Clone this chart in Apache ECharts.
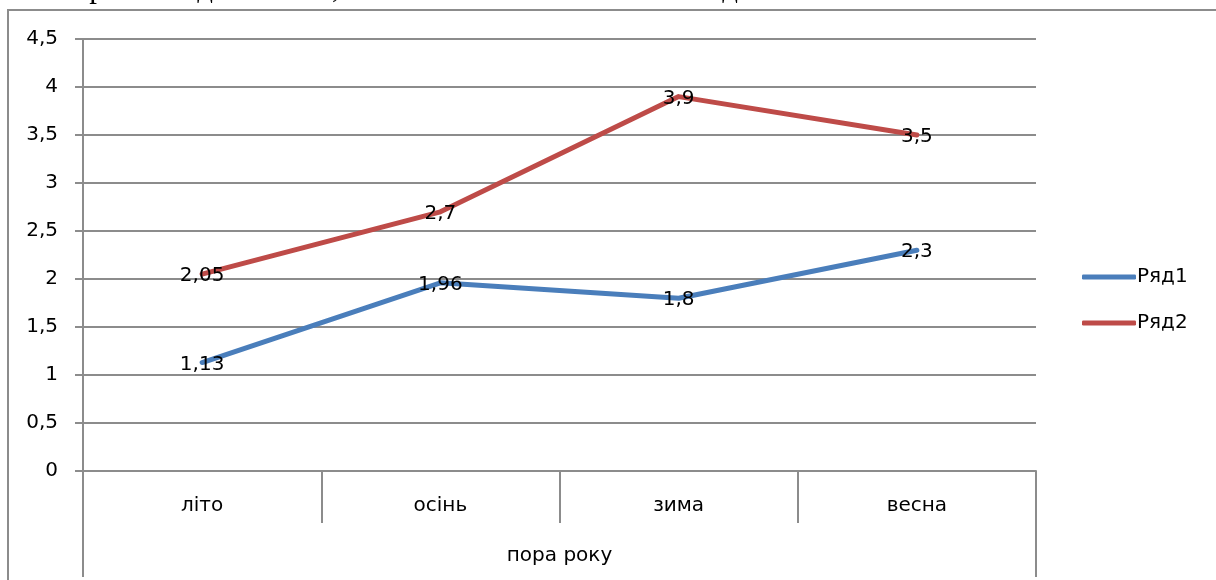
<!DOCTYPE html>
<html>
<head>
<meta charset="utf-8">
<script src="https://cdn.jsdelivr.net/npm/echarts@6/dist/echarts.min.js"></script>
<style>
  html, body { margin: 0; padding: 0; background: #fff; }
  #chart { width: 1216px; height: 580px; }
</style>
</head>
<body>
<div id="chart"></div>
<script>
// Seasons and the two measured series
const categories = ['літо', 'осінь', 'зима', 'весна'];
const groupLabel = ['пора року'];
const seriesNames = ['Ряд1', 'Ряд2'];
const row1 = [1.13, 1.96, 1.8, 2.3];
const row2 = [2.05, 2.7, 3.9, 3.5];
const yTicks = { min: 0, max: 4.5, step: 0.5 };

const comma = v => String(v).replace('.', ',');
const gray = '#8c8c8c';
const font = '"DejaVu Sans", "Noto Sans", sans-serif';
const fs = 20;

const chart = echarts.init(document.getElementById('chart'), null, { renderer: 'canvas' });

const lineSeries = (name, data, color) => ({
  name,
  type: 'line',
  data,
  symbol: 'circle',
  symbolSize: 0.1,
  showSymbol: true,
  lineStyle: { width: 5, color, cap: 'round', join: 'round' },
  itemStyle: { color },
  label: {
    show: true,
    position: 'inside',
    offset: [0, 2],
    formatter: p => comma(p.value),
    color: '#000',
    fontSize: fs,
    fontFamily: font
  },
  z: 3
});

chart.setOption({
  animation: false,
  backgroundColor: '#fff',
  grid: { left: 83, right: 180, top: 39, bottom: 109, containLabel: false },
  legend: {
    orient: 'vertical',
    left: 1077,
    top: 262,
    itemGap: 26,
    itemWidth: 54,
    itemHeight: 5,
    icon: 'roundRect',
    textStyle: { fontSize: fs, fontFamily: font, color: '#000', padding: [0, 0, 0, -4] },
    data: seriesNames
  },
  xAxis: [
    {
      type: 'category',
      data: categories,
      boundaryGap: true,
      axisLine: { show: true, lineStyle: { color: gray, width: 2 } },
      axisTick: { show: true, interval: 0, length: 52, lineStyle: { color: gray, width: 2 } },
      axisLabel: { interval: 0, margin: 25, fontSize: fs, fontFamily: font, color: '#000' },
      splitLine: { show: false }
    },
    {
      type: 'category',
      data: groupLabel,
      position: 'bottom',
      boundaryGap: true,
      axisLine: { show: false },
      axisTick: { show: true, length: 106, lineStyle: { color: gray, width: 2 } },
      axisLabel: { margin: 75, fontSize: fs, fontFamily: font, color: '#000' },
      splitLine: { show: false }
    }
  ],
  yAxis: {
    type: 'value',
    min: yTicks.min,
    max: yTicks.max,
    interval: yTicks.step,
    axisLine: { show: true, lineStyle: { color: gray, width: 2 } },
    axisTick: { show: true, length: 8, lineStyle: { color: gray, width: 2 } },
    axisLabel: { formatter: comma, margin: 25, fontSize: fs, fontFamily: font, color: '#000' },
    splitLine: { show: true, lineStyle: { color: gray, width: 2 } }
  },
  series: [
    lineSeries(seriesNames[0], row1, '#4a7ebb'),
    lineSeries(seriesNames[1], row2, '#be4b48')
  ],
  graphic: [
    {
      type: 'text',
      left: 0,
      top: -27,
      style: {
        text: 'полімерного індиготю 13,3% – В станах з отбенного індиготю.',
        font: '31px "Liberation Serif", serif',
        fill: '#000'
      },
      z: 1
    },
    {
      type: 'rect',
      shape: { x: 8, y: 10, width: 1220, height: 580 },
      style: { fill: null, stroke: gray, lineWidth: 2 },
      z: 0
    }
  ]
});
</script>
</body>
</html>
